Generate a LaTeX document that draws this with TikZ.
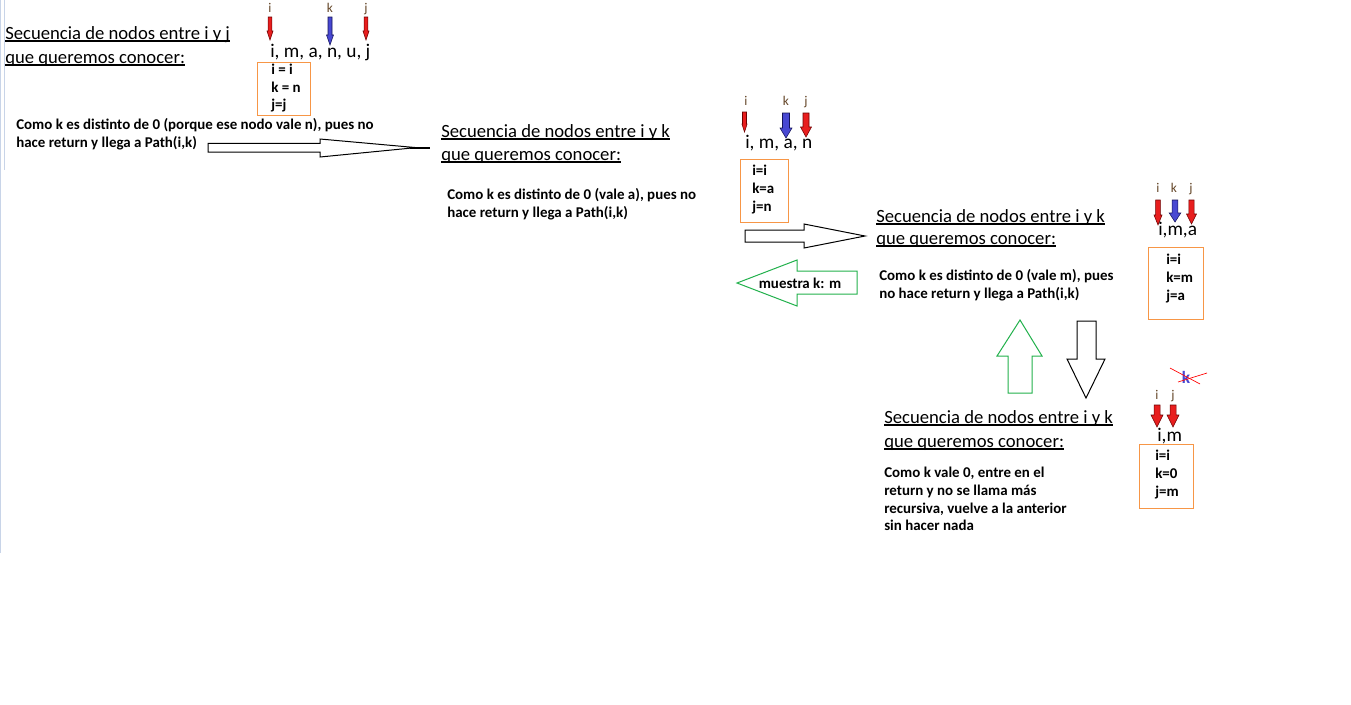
\documentclass[tikz,border=0pt]{standalone}
\usepackage{fontspec}
\setmainfont{Carlito}
\definecolor{orng}{RGB}{247,150,70}
\definecolor{grn}{RGB}{34,177,76}
\definecolor{lbl}{RGB}{100,70,40}
\definecolor{redf}{RGB}{232,30,30}
\definecolor{redd}{RGB}{110,0,0}
\definecolor{bluef}{RGB}{72,72,210}
\definecolor{blued}{RGB}{20,20,90}
\definecolor{edgec}{RGB}{200,212,232}
\newcommand\myul[1]{\setbox0=\hbox{#1}\rlap{\rule[-1.9pt]{\wd0}{0.8pt}}\box0}
\newcommand\sarr[7]{\draw[#7] (#1-#4,#2) -- (#1+#4,#2) -- (#1+#4,#3-#6) -- (#1+#5,#3-#6) -- (#1,#3) -- (#1-#5,#3-#6) -- (#1-#4,#3-#6) -- cycle;}
\tikzset{
  head/.style={anchor=base west,inner sep=0,font=\fontsize{14}{17}\selectfont},
  note/.style={anchor=base west,inner sep=0,font=\fontsize{11.2}{13}\selectfont\bfseries},
  lab/.style={anchor=base,inner sep=0,font=\fontsize{10}{12}\selectfont,text=lbl},
  seq/.style={anchor=base west,inner sep=0,font=\fontsize{14.5}{17}\selectfont},
  vbox/.style={draw=orng,line width=0.75pt},
  redarr/.style={fill=redf,draw=redd,line width=0.4pt},
  bluearr/.style={fill=bluef,draw=blued,line width=0.4pt},
  blkarr/.style={draw=black,line width=0.75pt},
  grnarr/.style={draw=grn,line width=0.75pt},
}
\begin{document}
\begin{tikzpicture}[x=0.75pt,y=-0.75pt]
\useasboundingbox (0,0) rectangle (1351,704);
\fill[white] (0,0) rectangle (1351,704);
\draw[edgec,line width=0.75pt] (0.7,0) -- (0.7,553);
\draw[edgec,line width=0.75pt] (4.3,0) -- (4.3,170);

% ---------- group 1 ----------
\node[head] (h1a) at (5,39) {\myul{Secuencia de nodos entre i y j}};
\node[head] (h1b) at (5,63) {\myul{que queremos conocer:}};
\node[lab] (l1i) at (270,12) {i};
\node[lab] (l1k) at (330,12) {k};
\node[lab] (l1j) at (366,12) {j};
\sarr{270}{17}{40}{1.8}{3}{9}{redarr}
\sarr{330}{17}{45}{2}{3.5}{10}{bluearr}
\sarr{366}{17}{40}{1.8}{3}{9}{redarr}
\node[seq] (s1) at (270,57) {i, m, a, n, u, j};
\draw[vbox] (257,62) rectangle (310,115);
\node[note] (b1a) at (271,74) {i = i};
\node[note] (b1b) at (271,92) {k = n};
\node[note] (b1c) at (271,109) {j=j};
\node[note] (n1a) at (16,129) {Como k es distinto de 0 (porque ese nodo vale n), pues no};
\node[note] (n1b) at (16,147.5) {hace return y llega a Path(i,k)};
\draw[blkarr] (208,143.3) -- (320,143.3) -- (320,139) -- (416,147.6) -- (320,157) -- (320,152) -- (208,152) -- cycle;
\draw[black,line width=1.3pt] (410,147.8) -- (430,147.8);

% ---------- group 2 ----------
\node[head] (h2a) at (441,137) {\myul{Secuencia de nodos entre i y k}};
\node[head] (h2b) at (441,160) {\myul{que queremos conocer:}};
\node[note] (n2a) at (447,199) {Como k es distinto de 0 (vale a), pues no};
\node[note] (n2b) at (447,217) {hace return y llega a Path(i,k)};
\node[lab] (l2i) at (746,105) {i};
\node[lab] (l2k) at (786,105) {k};
\node[lab] (l2j) at (806,105) {j};
\sarr{744.5}{112}{132}{2}{2.6}{8}{redarr}
\sarr{786}{113}{138}{3.5}{6}{10}{bluearr}
\sarr{806}{113}{137}{3}{5.5}{10}{redarr}
\node[seq] (s2) at (745,148) {i, m, a, n};
\draw[vbox] (740,159) rectangle (788,222);
\node[note] (b2a) at (752,175) {i=i};
\node[note] (b2b) at (752,193) {k=a};
\node[note] (b2c) at (752,211) {j=n};
\draw[blkarr] (745,230) -- (804,230) -- (804,224) -- (865,236) -- (804,248) -- (804,242) -- (745,242) -- cycle;
\draw[grnarr] (737,283) -- (797,260) -- (797,271) -- (857,271) -- (857,294) -- (797,294) -- (797,306) -- cycle;
\node[note,anchor=center] (mk) at (800,283) {muestra k: m};

% ---------- group 3 ----------
\node[head] (h3a) at (876,222) {\myul{Secuencia de nodos entre i y k}};
\node[head] (h3b) at (876,244) {\myul{que queremos conocer:}};
\node[note] (n3a) at (879,280) {Como k es distinto de 0 (vale m), pues};
\node[note] (n3b) at (879,298) {no hace return y llega a Path(i,k)};
\node[lab] (l3i) at (1158,192) {i};
\node[lab] (l3k) at (1174,192) {k};
\node[lab] (l3j) at (1191,192) {j};
\sarr{1158}{200}{225}{2.4}{4}{10}{redarr}
\sarr{1175}{200}{222}{2.8}{5.8}{9}{bluearr}
\sarr{1191.5}{200}{224}{2.6}{5}{10}{redarr}
\node[seq] (s3) at (1158,235) {i,m,a};
\draw[vbox] (1148,247) rectangle (1203,319);
\node[note] (b3a) at (1166,264) {i=i};
\node[note] (b3b) at (1166,282) {k=m};
\node[note] (b3c) at (1166,300) {j=a};
\draw[grnarr] (1020,320) -- (1042,356) -- (1032,356) -- (1032,393) -- (1008,393) -- (1008,356) -- (997,356) -- cycle;
\draw[blkarr] (1077,321) -- (1096,321) -- (1096,359) -- (1105,359) -- (1086,398) -- (1067,359) -- (1077,359) -- cycle;

% ---------- group 4 ----------
\node[anchor=center,inner sep=0,font=\fontsize{13}{15}\selectfont\bfseries,text=bluef] (kx) at (1186,377) {k};
\draw[red,line width=0.5pt] (1170,368) -- (1200,384);
\draw[red,line width=0.5pt] (1178,382) -- (1207,373);
\node[lab] (l4i) at (1157,399) {i};
\node[lab] (l4j) at (1173,399) {j};
\sarr{1157}{405}{427}{3}{6}{12}{redarr}
\sarr{1173}{405}{427}{3}{6}{12}{redarr}
\node[seq] (s4) at (1157,441) {i,m};
\draw[vbox] (1139,444) rectangle (1193,508);
\node[note] (b4a) at (1155,460) {i=i};
\node[note] (b4b) at (1155,478) {k=0};
\node[note] (b4c) at (1155,496) {j=m};
\node[head] (h4a) at (884,423) {\myul{Secuencia de nodos entre i y k}};
\node[head] (h4b) at (884,447) {\myul{que queremos conocer:}};
\node[note] (n4a) at (884,477) {Como k vale 0, entre en el};
\node[note] (n4b) at (884,495) {return y no se llama más};
\node[note] (n4c) at (884,513) {recursiva, vuelve a la anterior};
\node[note] (n4d) at (884,530) {sin hacer nada};
\end{tikzpicture}
\end{document}
